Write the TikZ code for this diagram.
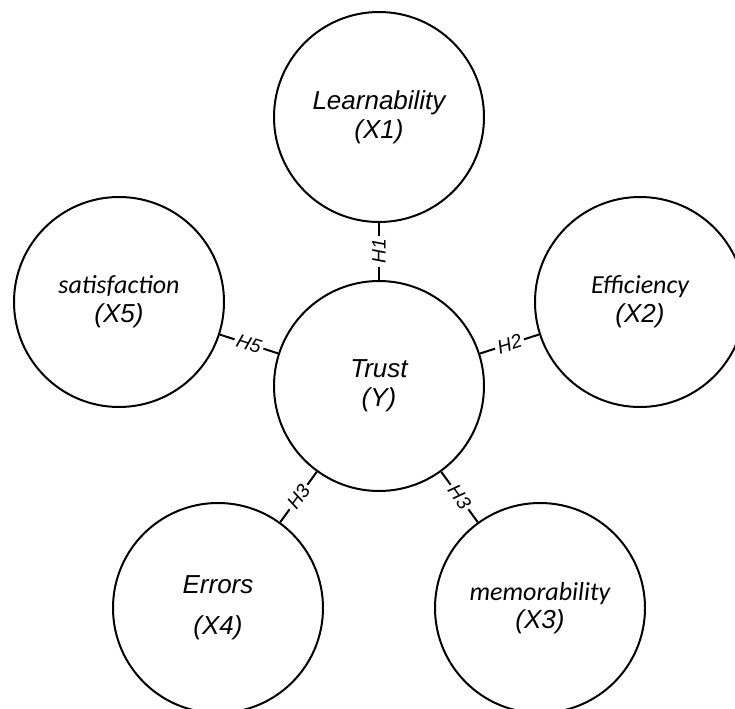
\documentclass[tikz,border=0pt]{standalone}
\usepackage{fontspec}
\setmainfont{Liberation Sans}
\newfontfamily\calfont{Carlito}
\usepackage{tikz}
\usetikzlibrary{positioning}

\begin{document}
\begin{tikzpicture}[x=0.75pt,y=-0.75pt,
	var/.style={circle,draw,line width=1.5pt,inner sep=0pt,minimum size=157.5pt,align=center,font=\fontsize{19.5}{21.5}\selectfont\itshape},
	hyp/.style={fill=white,inner sep=2pt,font=\fontsize{14.5}{16}\selectfont\itshape}]
	\useasboundingbox (0,0) rectangle (735,709);
	\node[var] at (379,386) (trust) {Trust\\(Y)};
	\node[var] at (379,117) (learn) {Learnability\\(X1)};
	\node[var] at (640,302) (effic) {{\calfont\itshape Efficiency}\\(X2)};
	\node[var] at (540,608) (memo) {{\calfont\itshape memorability}\\(X3)};
	\node[var] at (218,608) (errors) {Errors\\[9pt](X4)};
	\node[var] at (119,302) (satis) {{\calfont\itshape satisfaction}\\(X5)};
	\draw[line width=1.5pt] (trust)--(learn) node[midway,hyp,rotate=90] {H1};
	\draw[line width=1.5pt] (trust)--(effic) node[midway,hyp,rotate=18] {H2};
	\draw[line width=1.5pt] (trust)--(memo) node[midway,hyp,rotate=-54] {H3};
	\draw[line width=1.5pt] (trust)--(errors) node[midway,hyp,rotate=54] {H3};
	\draw[line width=1.5pt] (trust)--(satis) node[midway,hyp,rotate=-18] {H5};
\end{tikzpicture}
\end{document}
